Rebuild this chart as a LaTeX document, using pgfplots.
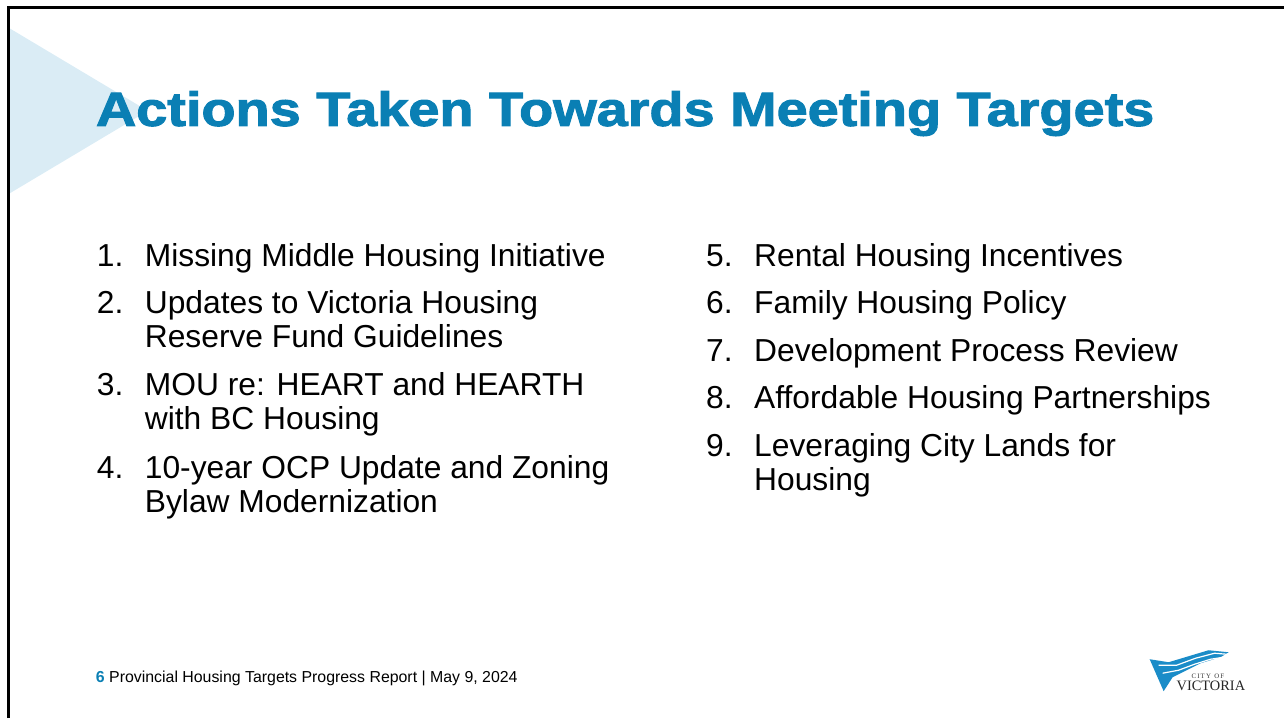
\documentclass[border=0pt]{standalone}
\usepackage{pgfplots}
\pgfplotsset{compat=1.18}
\usepackage{fontspec}
\setmainfont{Liberation Sans}
\newfontfamily\serifL{Liberation Serif}
\newfontfamily\titlefont[FakeBold=2.2, FakeStretch=1.165]{Liberation Sans Bold}
\definecolor{vicblue}{HTML}{0A7FB4}
\definecolor{tri}{HTML}{DAECF5}
\definecolor{logoblue}{HTML}{1A8CC8}
\begin{document}
\begin{tikzpicture}
\begin{axis}[
  width=642.5pt, height=359.5pt, scale only axis,
  xmin=0, xmax=1285, ymin=0, ymax=719, y dir=reverse,
  axis lines=none, clip=false,
  every node/.style={inner sep=0pt, outer sep=0pt},
]
% invisible corners to fix the page size
\addplot[draw=none, forget plot] coordinates {(0,0) (1285,719)};
% decorative triangle
\addplot[draw=none, fill=tri] coordinates {(9,28) (148,111) (9,194)} -- cycle;
% frame lines
\addplot[black, line width=1.5pt] coordinates {(9,719) (9,8) (1285,8)};
% title
\node[anchor=base west, font=\titlefont\fontsize{24}{29}\selectfont, text=vicblue] at (axis cs:89,126) {Actions Taken Towards Meeting Targets};
% left column
\begin{scope}[every node/.append style={anchor=base west, font=\fontsize{15.9}{19}\selectfont}]
\node at (axis cs:90,267) {1.};
\node at (axis cs:138,267) {Missing Middle Housing Initiative};
\node at (axis cs:90,314) {2.};
\node at (axis cs:138,314) {Updates to Victoria Housing};
\node at (axis cs:138,348) {Reserve Fund Guidelines};
\node at (axis cs:90,396) {3.};
\node at (axis cs:138,396) {MOU re: HEART and HEARTH};
\node at (axis cs:138,430) {with BC Housing};
\node at (axis cs:90,479) {4.};
\node at (axis cs:138,479) {10-year OCP Update and Zoning};
\node at (axis cs:138,513) {Bylaw Modernization};
% right column
\node at (axis cs:700,267) {5.};
\node at (axis cs:748,267) {Rental Housing Incentives};
\node at (axis cs:700,314) {6.};
\node at (axis cs:748,314) {Family Housing Policy};
\node at (axis cs:700,362) {7.};
\node at (axis cs:748,362) {Development Process Review};
\node at (axis cs:700,409) {8.};
\node at (axis cs:748,409) {Affordable Housing Partnerships};
\node at (axis cs:700,457) {9.};
\node at (axis cs:748,457) {Leveraging City Lands for};
\node at (axis cs:748,491) {Housing};
\end{scope}
% footer
\node[anchor=base west, font=\fontsize{7.95}{9.5}\selectfont] at (axis cs:89,683) {\textcolor{vicblue}{\bfseries 6} Provincial Housing Targets Progress Report | May 9, 2024};
% logo flag
\addplot[draw=none, fill=logoblue] coordinates {(1151,660) (1170,663) (1190,657) (1210,651) (1230,653) (1222,658) (1202,664) (1186,672) (1174,678) (1165,692)} -- cycle;
\addplot[white, line width=0.6pt] coordinates {(1160,666) (1178,666) (1197,659) (1216,654) (1228,655)};
\addplot[white, line width=0.6pt] coordinates {(1164,674) (1180,671) (1196,665) (1212,660) (1225,658)};
\node[anchor=base west, font=\serifL\fontsize{3.4}{4}\selectfont, text=black!80] at (axis cs:1186,679) {C\,I\,T\,Y\ \ O\,F};
\node[anchor=base west, font=\serifL\fontsize{7.2}{8}\selectfont, text=black!85] at (axis cs:1171,691) {VICTORIA};
\end{axis}
\end{tikzpicture}
\end{document}
